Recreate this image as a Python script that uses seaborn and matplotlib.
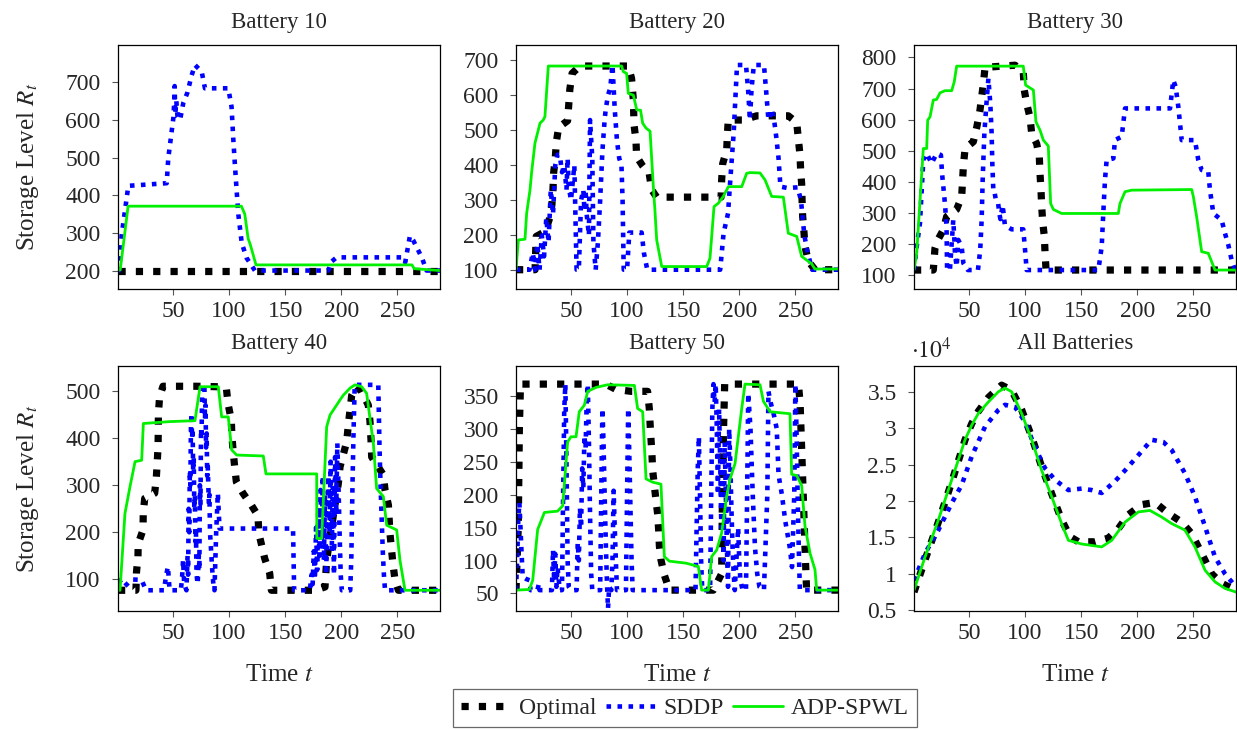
"""Storage level trajectories per battery: Optimal vs SDDP vs ADP-SPWL."""

import matplotlib
matplotlib.use("Agg")
import matplotlib.pyplot as plt
from matplotlib.lines import Line2D
from matplotlib.ticker import FuncFormatter
import seaborn as sns

# ---- data -----------------------------------------------------------------
b10_opt_t = [1, 288]
b10_opt = [200, 200]
b10_sddp_t = [1, 2, 4.3, 10.2, 44.4, 45.8, 50.3, 51, 51.5, 52, 53, 54, 56.3, 59.2,
              62.8, 66.7, 69.6, 75.6, 78.5, 99.3, 102.2, 103.8, 105.3, 106.8, 108.3,
              111.3, 115.7, 123, 188.4, 191.4, 195.9, 255.3, 257, 261.2, 264, 268.7,
              272, 276, 288]
b10_sddp = [200, 200, 295, 425, 432, 498, 604, 640, 690, 615, 650, 610, 600, 645,
            672, 719, 746, 728, 684, 684, 635, 547, 476, 410, 348,
            273, 233, 200, 200, 224, 235, 235, 222, 292, 281, 253,
            233, 200, 200]
b10_adp_t = [1, 3, 10, 111, 114, 117, 119, 124, 263, 265, 288]
b10_adp = [200, 202, 371, 371, 350, 285, 268, 215, 215, 205, 200]

b20_opt_t = [1, 18, 18.5, 19, 27, 31, 33, 34, 34.5, 36, 37, 39, 47, 48, 49, 51, 58,
             101, 104, 105.6, 106.2, 107.9, 108.5, 113.9, 119.8, 121.9, 126.4, 183.8,
             184.3, 185.2, 188.8, 189.4, 190.2, 203.6, 215.5, 243.7, 251.2, 252.6,
             254.1, 254.7, 255.6, 256, 256.5, 257.7, 258.6, 261.6, 267.5, 288]
b20_opt = [102, 102, 150, 197, 211, 249, 287, 335, 377, 420, 467, 508, 527, 572, 617,
           662, 683, 683, 648, 586, 515, 472, 425, 398, 375, 330, 309, 309, 358, 404,
           444, 487, 529, 529, 541, 541, 522, 477, 430, 387, 347, 297, 254, 208, 168,
           126, 102, 102]
b20_sddp_t = [1, 13, 16, 18, 20, 22, 24, 26, 28, 30, 32, 34, 36, 38, 40, 42, 44, 46,
              47, 48, 50, 53, 55, 57, 59, 61, 62, 63, 64, 66, 67, 69, 70, 72, 74, 76,
              78, 80, 81, 83, 85, 87, 89, 91, 93, 95, 96, 97, 100, 102, 113, 115, 118,
              183, 186, 190, 192, 195, 198, 206, 208, 209.5, 211, 213, 222, 224, 226,
              229, 231, 233, 235, 236.7, 243, 252, 255, 258, 261, 265, 288]
b20_sddp = [102, 102, 150, 102, 175, 102, 200, 140, 250, 180, 330, 260, 400, 430,
            430, 380, 400, 330, 420, 340, 300, 400, 102, 102, 300, 330, 270, 330, 260,
            200, 529, 420, 180, 102, 180, 300, 440, 530, 560, 600, 620, 686, 560, 470,
            420, 400, 300, 102, 102, 208, 208, 150, 102, 102, 206, 263, 358, 491, 686,
            686, 610, 529, 620, 686, 686, 610, 529, 560, 530, 480, 420, 339, 335, 337,
            300, 200, 150, 102, 102]
b20_adp_t = [1, 3.1, 9, 10.5, 13.5, 15, 17.9, 22.4, 25.3, 26.8, 29.8, 95.2, 96.6,
             99.6, 101.1, 105.6, 108.6, 112, 113.9, 116.9, 120.5, 123.4, 124.8, 126.4,
             130.9, 171, 173.9, 177.5, 181.4, 185.8, 190.3, 194.7, 202.2, 206.6, 209.6,
             218.5, 223, 228.9, 239.3, 243.7, 251.2, 255.6, 264.5, 267.5, 288]
b20_adp = [102, 187, 189, 263, 330, 382, 463, 520, 529, 539, 683, 683, 667, 662, 605,
           600, 558, 557, 520, 506, 497, 339, 273, 187, 111, 111, 135, 282, 292, 311,
           339, 339, 339, 377, 379, 378, 358, 311, 309, 206, 197, 140, 119, 104, 104]

b30_opt_t = [1, 18.2, 19.7, 22.1, 27.1, 30.1, 39, 43.5, 45, 46.5, 53.9, 56.9, 59.8,
             61.3, 62.8, 64.3, 91, 98.4, 99.3, 101.4, 104.4, 105.9, 110.3, 112.7, 113.3,
             114.2, 114.8, 115.7, 117.2, 117.8, 118.7, 288]
b30_opt = [116, 116, 186, 212, 245, 288, 311, 352, 450, 507, 529, 575, 630, 673, 714,
           768, 775, 754, 695, 652, 607, 555, 523, 480, 427, 373, 322, 271, 223, 172,
           116, 116]
b30_sddp_t = [1, 3.4, 6.3, 9.3, 12.3, 16.7, 21.2, 25, 26, 27, 28, 29, 30, 30.5, 33,
              36, 37, 37.5, 39, 40.5, 43.5, 45, 49, 58, 60, 61.3, 62.2, 63.7, 65.8,
              67.3, 69, 70.2, 70.8, 71.7, 72.5, 74, 76, 77, 78, 80, 82, 88, 98.4, 100,
              101.4, 165.3, 168.3, 169.7, 171.2, 172.7, 178.7, 180.1, 186.1, 189.1,
              229.2, 232.1, 234.2, 236.6, 239.6, 251.4, 254.4, 257.4, 263.3, 264.8,
              267.8, 275.2, 278.2, 281.2, 284.1, 287.1, 288]
b30_sddp = [116, 191, 266, 470, 491, 459, 491, 486, 427, 389, 352, 309, 255, 116, 116,
            277, 213, 170, 127, 213, 191, 138, 116, 116, 180, 277, 405, 556, 663, 732,
            652, 556, 459, 373, 373, 340, 330, 300, 280, 325, 260, 247, 247, 180, 116,
            116, 191, 298, 405, 470, 475, 534, 545, 636, 636, 727, 706, 641, 534, 534,
            470, 438, 432, 373, 298, 277, 234, 196, 148, 116, 116]
b30_adp_t = [1, 3.4, 9.3, 12.3, 13.2, 15.3, 18.2, 21.2, 24.2, 28.6, 34.6, 36.9, 39,
             98.4, 100.5, 107.4, 109.7, 113.3, 116.3, 120.7, 122.8, 125.2, 132.6,
             183.1, 184.6, 189.1, 195, 248.5, 250, 252.9, 257.4, 263.3, 269.3, 288]
b30_adp = [116, 170, 507, 507, 598, 609, 663, 665, 686, 693, 693, 722, 772, 772, 711,
           695, 593, 566, 534, 515, 330, 311, 298, 298, 330, 368, 373, 375, 352, 288,
           175, 170, 116, 116]

b40_opt_t = [1, 17, 17.5, 18.8, 19, 23.3, 23.5, 24.8, 33.7, 35.2, 36, 36.7, 36.9, 37,
             38.1, 41.1, 70.8, 90, 97.6, 99, 102, 102.5, 103.5, 105, 106.5, 112.4,
             119.8, 125.8, 126.5, 128.7, 131.7, 136.2, 137.7, 176.6, 185.5, 187, 190,
             197.4, 198.9, 204.8, 206.3, 207.8, 209.3, 213.7, 218.2, 224.1, 225.6,
             226.5, 227.1, 237.5, 239, 242, 243.4, 246, 247.9, 250.9, 288]
b40_opt = [77, 77, 116, 148, 176, 205, 240, 272, 283, 318, 350, 382, 417, 452, 488,
           510, 510, 509, 506, 474, 438, 406, 375, 339, 307, 283, 258, 235, 198, 176,
           145, 113, 77, 77, 84, 141, 191, 304, 339, 392, 428, 460, 491, 510, 498, 470,
           435, 396, 360, 322, 290, 258, 198, 134, 99, 77, 77]
b40_sddp_t = [1, 3, 6, 9, 13, 22, 26, 42, 44, 45.5, 47, 57, 58, 59, 60, 62, 63, 63.5,
              64, 64.5, 65, 65.5, 66, 66.5, 67, 67.5, 68, 68.5, 69, 69.5, 70, 70.5, 71,
              72, 73, 73.5, 74, 74.5, 75, 75.5, 76, 78, 78.5, 79, 79.5, 80, 80.5, 81,
              82, 82.5, 83, 84, 85, 86, 87, 88.5, 90, 91.5, 157, 158, 172, 173.5, 174.5,
              175.5, 176.5, 177.5, 178.5, 179.5, 180.5, 181.5, 182.5, 183.5, 184.5,
              185.5, 186.5, 187.5, 188.5, 189.5, 190.5, 191.5, 192.5, 193.5, 194.5,
              195.5, 196.5, 197.5, 198.5, 199.5, 200.5, 208, 209, 210, 211, 212, 233,
              234, 235, 236, 237, 238, 239, 288]
b40_sddp = [100, 95, 84, 90, 100, 99, 77, 77, 110, 127, 77, 77, 100, 141, 90, 77, 150,
            110, 250, 200, 330, 300, 420, 452, 400, 420, 330, 360, 250, 280, 180, 200,
            110, 90, 150, 120, 300, 260, 420, 400, 513, 513, 440, 470, 380, 410, 320,
            340, 260, 280, 200, 160, 120, 90, 77, 200, 283, 208, 208, 77, 77, 110, 90,
            160, 100, 210, 120, 250, 150, 290, 180, 320, 140, 280, 110, 230, 320, 200,
            350, 160, 300, 110, 360, 250, 389, 300, 200, 110, 77, 77, 150, 300, 420,
            513, 513, 389, 300, 230, 160, 110, 77, 77]
b40_adp_t = [1, 2.8, 7.2, 11.7, 16.2, 22.1, 23.6, 47.3, 69.6, 74.1, 90.4, 93.4, 99.3,
             102.3, 106.8, 130.5, 132.9, 178.1, 178.2, 182.5, 187, 190, 198.9, 201.8,
             207.8, 212.2, 218.2, 222.6, 228.6, 231.5, 237.5, 240.5, 249.4, 252.3,
             256.8, 288]
b40_adp = [77, 77, 240, 297, 350, 353, 431, 435, 437, 509, 509, 445, 445, 375, 364,
           362, 324, 324, 187, 187, 424, 449, 481, 491, 506, 513, 509, 495, 389, 293,
           276, 215, 205, 141, 77, 77]

b50_opt_t = [1, 3, 4, 5, 81, 90, 103.5, 118.3, 119.8, 120.5, 121.3, 122.2, 122.8,
             124.3, 125.8, 127.3, 128.2, 128.8, 130.2, 133.2, 137.7, 176.9, 184.3, 185,
             186, 187, 252.7, 254.2, 255, 256, 257, 258, 259, 260, 288]
b50_opt = [55, 150, 300, 368, 368, 360, 357, 357, 331, 308, 285, 260, 237, 214, 191,
           170, 145, 122, 101, 78, 55, 55, 80, 200, 300, 368, 368, 340, 300, 250, 200,
           150, 101, 55, 55]
b50_sddp_t = [1, 2, 3, 4, 5, 6, 7, 10, 13, 14, 20, 21.5, 22, 33, 34, 35, 36, 37, 38,
              40, 42, 43, 44, 45, 46, 47, 48, 50, 55, 56, 57, 58, 59, 60, 61, 62, 63,
              64, 65, 66, 67, 68, 69, 76, 77, 78, 79, 80, 81, 82, 83, 84, 86, 87, 88,
              89, 90, 91, 99, 100, 101, 102, 103, 104, 105, 161, 162, 163, 164, 165,
              166, 167, 174, 175, 176, 177, 178, 179, 180, 181, 182, 183, 184, 185, 186,
              187, 188, 189, 190, 191, 192, 193, 194, 195, 196, 199, 200, 201, 203, 206,
              207, 208, 210, 212, 214, 216, 218, 222, 225, 226, 228, 231, 233.4, 235,
              238, 241, 245, 247, 249, 250, 251, 252, 253, 254, 288]
b50_sddp = [55, 100, 160, 188, 150, 110, 75, 72, 70, 55, 55, 65, 55, 55, 116, 70, 110,
            60, 90, 55, 55, 200, 330, 368, 250, 100, 60, 55, 55, 127, 100, 180, 150,
            240, 210, 290, 270, 340, 368, 280, 170, 80, 55, 55, 200, 331, 280, 200, 130,
            70, 27, 60, 55, 100, 206, 150, 100, 55, 55, 200, 331, 260, 180, 100, 55, 55,
            150, 240, 288, 200, 100, 55, 55, 200, 330, 368, 340, 368, 300, 200, 330,
            250, 150, 250, 100, 280, 200, 120, 60, 300, 250, 180, 120, 80, 55, 150, 100,
            70, 55, 55, 200, 354, 300, 200, 120, 80, 60, 55, 200, 357, 340, 320, 300,
            230, 200, 160, 120, 90, 200, 368, 300, 200, 120, 55, 55]
b50_adp_t = [1, 12.9, 15.9, 20.3, 26.3, 38.1, 42.6, 47, 50, 54.5, 57.4, 61.9, 64.9,
             72.3, 82.7, 106.5, 109.4, 113.9, 116.9, 122.8, 130.2, 133.2, 137.7, 152.5,
             163.5, 166.5, 172.5, 175.4, 179.9, 184.3, 188.8, 191.8, 196.2, 202.2,
             205.1, 218.5, 221.5, 227.4, 245.2, 246.7, 251.2, 255.6, 258.6, 263.1,
             267.5, 269, 288]
b50_adp = [55, 56, 70, 147, 173, 175, 183, 280, 288, 288, 326, 336, 357, 363, 367, 366,
           331, 326, 224, 219, 216, 106, 99, 96, 91, 55, 55, 106, 116, 142, 198, 224,
           247, 331, 368, 367, 342, 326, 323, 231, 229, 214, 152, 111, 86, 55, 55]

# All batteries, in units of 1e4
all_opt_t = [1, 10.8, 22.7, 34.6, 46.5, 52.4, 58.3, 67.3, 79.1, 88, 97, 105.9, 114.8,
             123.7, 132.6, 140, 147.5, 162.3, 174.2, 183.1, 192, 203.9, 215.8, 227.7,
             239.6, 248.5, 257.4, 266.3, 275.2, 287, 288]
all_opt = [0.75, 1.19, 1.71, 2.26, 2.84, 3.06, 3.23, 3.42, 3.59, 3.52, 3.25, 2.88,
           2.47, 2.10, 1.74, 1.51, 1.44, 1.44, 1.49, 1.62, 1.81, 1.95, 1.98, 1.83, 1.71,
           1.55, 1.28, 1.00, 0.87, 0.78, 0.77]
all_sddp_t = [1, 10.8, 22.7, 34.6, 43.5, 52.4, 64.3, 76.2, 82.1, 91, 99.9, 108.8,
              117.8, 126.7, 138.6, 150.4, 159.4, 168.3, 180.1, 189.1, 201, 212.8, 223.2,
              230.7, 242.5, 251.4, 260.4, 269.3, 278.2, 288]
all_sddp = [0.91, 1.28, 1.60, 1.97, 2.22, 2.61, 3.02, 3.25, 3.32, 3.29, 3.09, 2.74,
            2.45, 2.29, 2.15, 2.17, 2.15, 2.11, 2.27, 2.42, 2.63, 2.84, 2.81, 2.70,
            2.38, 2.06, 1.65, 1.23, 1.00, 0.82]
all_adp_t = [1, 10.8, 22.7, 34.6, 46.5, 52.4, 58.3, 67.3, 76.2, 82.1, 88, 97, 105.9,
             114.8, 123.7, 132.6, 138.6, 150.4, 168.3, 177.2, 189.1, 201, 211.3, 221.7,
             230.7, 242.5, 251.4, 260.4, 269.3, 278.2, 288]
all_adp = [0.776, 1.23, 1.74, 2.29, 2.84, 3.04, 3.20, 3.36, 3.50, 3.55, 3.50, 3.20,
           2.84, 2.42, 2.06, 1.69, 1.46, 1.41, 1.37, 1.46, 1.71, 1.85, 1.87, 1.78, 1.69,
           1.60, 1.37, 1.05, 0.89, 0.80, 0.75]

titles = ["Battery 10", "Battery 20", "Battery 30", "Battery 40", "Battery 50",
          "All Batteries"]
x_ticks = [50, 100, 150, 200, 250]

# ---- style -----------------------------------------------------------------
sns.set_theme(style="ticks")
plt.rcParams["font.family"] = ["Liberation Serif", "DejaVu Serif"]
plt.rcParams["mathtext.fontset"] = "stix"

FS_TICK = 17
FS_LABEL = 18
FS_TITLE = 16.5
FS_LEG = 17

STYLES = {
    "opt": dict(color="black", lw=5.2, linestyle=(0, (1, 1.4)),
                dash_capstyle="butt", solid_capstyle="butt"),
    "sddp": dict(color="#0000ff", lw=3.3, linestyle=(0, (1, 1.4)),
                 dash_capstyle="butt", solid_capstyle="butt"),
    "adp": dict(color="#00f000", lw=2.0, linestyle="-"),
}

fig = plt.figure(figsize=(12.37, 7.3), dpi=100)

W, H = 1237, 730
col_left = [118, 516, 914]
row_top = [45, 366]
row_h = [244, 245]
ax_w = 322

panels = [
    (b10_opt_t, b10_opt, b10_sddp_t, b10_sddp, b10_adp_t, b10_adp,
     (151, 799), [200, 300, 400, 500, 600, 700]),
    (b20_opt_t, b20_opt, b20_sddp_t, b20_sddp, b20_adp_t, b20_adp,
     (47, 743), [100, 200, 300, 400, 500, 600, 700]),
    (b30_opt_t, b30_opt, b30_sddp_t, b30_sddp, b30_adp_t, b30_adp,
     (55, 840), [100, 200, 300, 400, 500, 600, 700, 800]),
    (b40_opt_t, b40_opt, b40_sddp_t, b40_sddp, b40_adp_t, b40_adp,
     (33, 553), [100, 200, 300, 400, 500]),
    (b50_opt_t, b50_opt, b50_sddp_t, b50_sddp, b50_adp_t, b50_adp,
     (23.3, 395.5), [50, 100, 150, 200, 250, 300, 350]),
    (all_opt_t, all_opt, all_sddp_t, all_sddp, all_adp_t, all_adp,
     (0.49, 3.853), [0.5, 1, 1.5, 2, 2.5, 3, 3.5]),
]

for i, (ot, ov, st, sv, at, av, ylim, yticks) in enumerate(panels):
    r, c = divmod(i, 3)
    left = col_left[c] / W
    bottom = 1 - (row_top[r] + row_h[r]) / H
    ax = fig.add_axes([left, bottom, ax_w / W, row_h[r] / H])

    sns.lineplot(x=ot, y=ov, ax=ax, sort=False, estimator=None, **STYLES["opt"])
    sns.lineplot(x=st, y=sv, ax=ax, sort=False, estimator=None, **STYLES["sddp"])
    sns.lineplot(x=at, y=av, ax=ax, sort=False, estimator=None, **STYLES["adp"])

    ax.set_xlim(1, 288)
    ax.set_ylim(*ylim)
    ax.set_xticks(x_ticks)
    ax.set_yticks(yticks)
    ax.yaxis.set_major_formatter(FuncFormatter(lambda v, p: f"{v:g}"))
    ax.tick_params(direction="out", length=4.5, width=0.8, color="#555555",
                   labelsize=FS_TICK)
    ax.tick_params(axis="x", pad=4)
    ax.tick_params(axis="y", pad=8)
    for sp in ax.spines.values():
        sp.set_color("black")
        sp.set_linewidth(0.9)
    ax.set_title(titles[i], fontsize=FS_TITLE, pad=12.5)

    if c == 0:
        ax.set_ylabel("Storage Level $R_t$", fontsize=FS_LABEL)
        ax.yaxis.set_label_coords(-0.24, 0.5)
    else:
        ax.set_ylabel("")
    if r == 1:
        ax.set_xlabel("Time $t$", fontsize=FS_LABEL)
        ax.xaxis.set_label_coords(0.5, -0.215)
    else:
        ax.set_xlabel("")

fig.text(911 / W, 1 - 350 / H, r"$\cdot 10^4$", fontsize=FS_TICK, ha="left",
         va="center")

handles = [
    Line2D([], [], **STYLES["opt"]),
    Line2D([], [], **STYLES["sddp"]),
    Line2D([], [], **STYLES["adp"]),
]
leg = fig.legend(handles, ["Optimal", "SDDP", "ADP-SPWL"], loc="center",
                 bbox_to_anchor=(685 / W, 1 - 708 / H), ncol=3, frameon=True,
                 fancybox=False, edgecolor="#444444", fontsize=FS_LEG,
                 handlelength=2.1, handletextpad=0.35, columnspacing=0.4,
                 borderpad=0.35)
leg.get_frame().set_linewidth(0.9)

fig.savefig("out.png", dpi=100)
plt.close(fig)
